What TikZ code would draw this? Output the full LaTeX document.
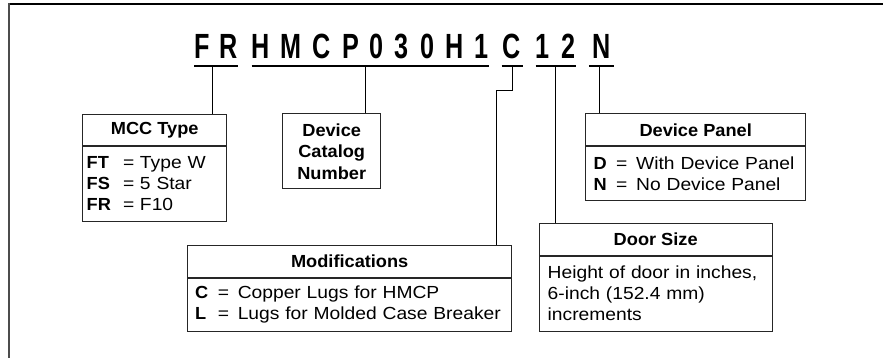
\documentclass[tikz,border=0pt]{standalone}
\usepackage{fontspec}
\setmainfont[FakeStretch=1.1,BoldFeatures={FakeStretch=1.04}]{Liberation Sans}
\newfontfamily\codefont[FakeStretch=0.72]{Liberation Sans}
\usetikzlibrary{positioning}

\newcommand{\keyeq}[3]{\makebox[#1][l]{\textbf{#2}}\makebox[#3][l]{=}}

\tikzset{
  code/.style={font=\codefont\bfseries\fontsize{35}{35}\selectfont, inner sep=0pt, anchor=base},
  codeline/.style={line width=2.5pt},
  link/.style={line width=0.9pt},
  headbox/.style={draw=black!85, line width=1pt, inner sep=0pt, font=\bfseries\fontsize{17.5}{21.5}\selectfont},
  bodybox/.style={draw=black!85, line width=1pt, inner ysep=0pt, align=left, font=\fontsize{17.5}{21}\selectfont},
}

\begin{document}
\begin{tikzpicture}[x=1pt,y=1pt]
	\useasboundingbox (0,0) rectangle (883,-358);
	% frame
	\draw[line width=1.3pt] (8,-4) -- (883,-4);
	\draw[line width=2pt, black!70] (8.5,-3.5) -- (8.5,-358);

	% catalog number
	\node[code] (fr) at (216.2,-58.3) {\makebox[43.7pt][s]{F\hfill R}};
	\node[code] (hmcp) at (370,-58.3) {\makebox[236.6pt][s]{H\hfill M\hfill C\hfill P\hfill 0\hfill 3\hfill 0\hfill H\hfill 1}};
	\node[code] (lug) at (512,-58.3) {\makebox[20.6pt]{C}};
	\node[code] (door) at (555.7,-58.3) {\makebox[40pt][s]{1\hfill 2}};
	\node[code] (panel) at (601.2,-58.3) {\makebox[24.3pt]{N}};
	\foreach \g in {fr,hmcp,lug,door,panel}
		\draw[codeline] ([yshift=-7.9pt]\g.base west) -- ([yshift=-7.9pt]\g.base east);

	% boxes
	\node[headbox, minimum width=144pt, minimum height=31.7pt] (mcchead) at (154.7,-129.9) {MCC Type};
	\node[bodybox, below=0pt of mcchead, text width=136pt, inner xsep=4pt, minimum height=74.3pt] (mccbody) {\keyeq{36.3pt}{FT}{17pt}Type W\\ \keyeq{36.3pt}{FS}{17pt}5 Star\\ \keyeq{36.3pt}{FR}{17pt}F10};

	\node[headbox, align=center, minimum width=98pt, minimum height=75pt] (catalog) at (331.7,-151.5) {Device\\Catalog\\Number};

	\node[headbox, minimum width=220pt, minimum height=32pt] (panelhead) at (695.7,-130) {Device Panel};
	\node[bodybox, below=0pt of panelhead, text width=204pt, inner xsep=8pt, minimum height=53.3pt] (panelbody) {\keyeq{22.5pt}{D}{20pt}With Device Panel\\ \keyeq{22.5pt}{N}{20pt}No Device Panel};

	\node[headbox, minimum width=324pt, minimum height=32pt] (modhead) at (349.7,-261) {Modifications};
	\node[bodybox, below=0pt of modhead, text width=309pt, inner xsep=7.5pt, minimum height=53pt] (modbody) {\keyeq{22.6pt}{C}{20pt}Copper Lugs for HMCP\\ \keyeq{22.6pt}{L}{20pt}Lugs for Molded Case Breaker};

	\node[headbox, minimum width=233.3pt, minimum height=31.7pt] (doorhead) at (655.7,-239.2) {Door Size};
	\node[bodybox, below=0pt of doorhead, text width=216pt, inner xsep=8.6pt, minimum height=75pt] (doorbody) {Height of door in inches,\\6-inch (152.4 mm)\\increments};

	% connectors
	\draw[link] ([xshift=-3.9pt,yshift=-7.9pt]fr.base) -- ([xshift=-3.9pt]fr.base |- mcchead.north);
	\draw[link] ([xshift=-5pt,yshift=-7.9pt]hmcp.base) -- ([xshift=-5pt]hmcp.base |- catalog.north);
	\draw[link] ([yshift=-7.9pt]lug.base) -- ++(0,-24.5) -| ([xshift=-16pt]modhead.north east);
	\draw[link] ([yshift=-7.9pt]door.base) -- (door.base |- doorhead.north);
	\draw[link] ([xshift=-2pt,yshift=-7.9pt]panel.base) -- ([xshift=-2pt]panel.base |- panelhead.north);
\end{tikzpicture}
\end{document}
